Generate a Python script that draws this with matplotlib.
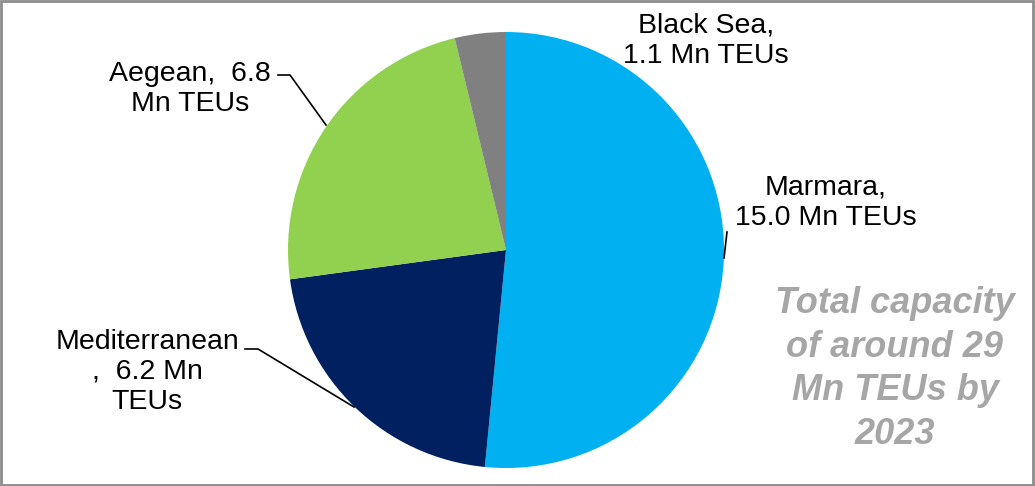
import matplotlib.pyplot as plt
from matplotlib.patches import Rectangle

plt.rcParams['font.family'] = ['Liberation Sans', 'DejaVu Sans']

regions = ['Marmara', 'Mediterranean', 'Aegean', 'Black Sea']
capacity = [15.0, 6.2, 6.8, 1.1]
colors = ['#00B0F0', '#002060', '#92D050', '#808080']
labels = ['Marmara,\n15.0 Mn TEUs', 'Mediterranean\n,  6.2 Mn\nTEUs',
          'Aegean,  6.8\nMn TEUs', 'Black Sea,\n1.1 Mn TEUs']

W, H = 1035, 486
fig = plt.figure(figsize=(W / 100, H / 100), dpi=100)
ax = fig.add_axes([0, 0, 1, 1])

cx, cy, r = 506, H - 250, 218
ax.pie(capacity, colors=colors, startangle=90, counterclock=False,
       center=(cx, cy), radius=r, frame=True,
       wedgeprops=dict(linewidth=0))
ax.set_xlim(0, W)
ax.set_ylim(0, H)
ax.set_aspect('auto')
ax.axis('off')

# label positions (pixels, y measured from top)
label_xy = [(826, 203), (147, 372), (190, 89), (706, 41)]
for text, (x, y) in zip(labels, label_xy):
    ax.text(x, H - y, text, ha='center', va='center', fontsize=20.5,
            linespacing=1.22, color='black')

# leader lines
lw = 1.2
ax.plot([724, 727], [H - 258, H - 232], color='black', lw=lw)
ax.plot([278, 290, 326], [H - 75, H - 75, H - 125], color='black', lw=lw)
ax.plot([245, 258, 354], [H - 349, H - 349, H - 407], color='black', lw=lw)

ax.text(895, H - 369, 'Total capacity\nof around 29\nMn TEUs by\n2023',
        ha='center', va='center', fontsize=26, fontweight='bold',
        fontstyle='italic', color='#A6A6A6', linespacing=1.33)

fig.patches.append(Rectangle((0.001, 0.002), 0.997, 0.995, transform=fig.transFigure,
                             fill=False, edgecolor='#8C8C8C', linewidth=2))

fig.savefig('out.png', dpi=100)
